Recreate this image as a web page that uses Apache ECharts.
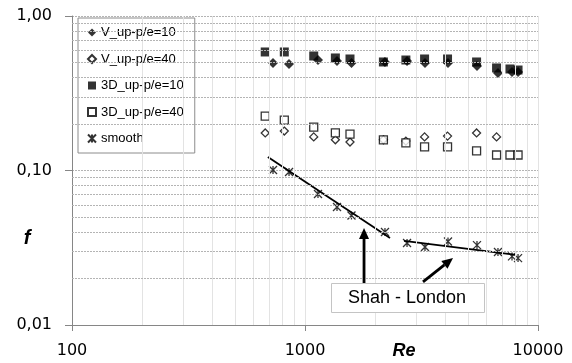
<!DOCTYPE html>
<html>
<head>
<meta charset="utf-8">
<script src="https://cdn.jsdelivr.net/npm/echarts@6/dist/echarts.min.js"></script>
<style>
  html, body { margin: 0; padding: 0; background: #fff; }
  #chart { width: 572px; height: 363px; }
</style>
</head>
<body>
<div id="chart"></div>
<script>
// Reynolds numbers of the two measurement sets
const re3D = [675, 815, 1090, 1350, 1560, 2170, 2710, 3260, 4090, 5450, 6640, 7580, 8210];
const reV  = [729, 854, 1137, 1372, 1583, 2204, 2741, 3273, 4109, 5472, 6733, 7735, 8210];

// friction factor f
const fV10    = [0.496, 0.489, 0.519, 0.511, 0.496, 0.504, 0.511, 0.496, 0.496, 0.475, 0.428, 0.434, 0.434];
const fV40    = [0.175, 0.180, 0.165, 0.158, 0.153, 0.158, 0.155, 0.165, 0.167, 0.175, 0.165];
const f3D10   = [0.585, 0.585, 0.551, 0.535, 0.527, 0.504, 0.519, 0.527, 0.527, 0.504, 0.461, 0.454, 0.447];
const f3D40   = [0.225, 0.212, 0.191, 0.175, 0.172, 0.158, 0.151, 0.142, 0.142, 0.134, 0.126, 0.126, 0.126];
const fSmooth = [0.1007, 0.0978, 0.0705, 0.0580, 0.0511, 0.0400, 0.0339, 0.0320, 0.0347, 0.0329, 0.0297, 0.0278, 0.0271];

// Shah - London correlations (end points)
const shahLam  = [[693, 0.1223], [2317, 0.0366]];
const shahTurb = [[2660, 0.0350], [8046, 0.0284]];

// annotation arrows: Re from, f from, Re to, f to
const arrows = [
  [1792, 0.0187, 1792, 0.0425],
  [3209, 0.0190, 4318, 0.0271],
];

// minor grid values
const xMinor = [200, 300, 400, 500, 600, 700, 800, 900, 2000, 3000, 4000, 5000, 6000, 7000, 8000, 9000];
const yMinor = [0.02, 0.03, 0.04, 0.05, 0.06, 0.07, 0.08, 0.09, 0.2, 0.3, 0.4, 0.5, 0.6, 0.7, 0.8, 0.9];

const names = ['V_up-p/e=10', 'V_up-p/e=40', '3D_up-p/e=10', '3D_up-p/e=40', 'smooth'];

const zip = (xs, ys) => ys.map((y, i) => [xs[i], y]);
const star = 'path://M0,0L10,10M10,0L0,10M5,0L5,10';
const axisGrey = '#868686';

// line with a filled head at its end
function renderArrow(params, api) {
  const p1 = api.coord([api.value(0), api.value(1)]);
  const p2 = api.coord([api.value(2), api.value(3)]);
  const dx = p2[0] - p1[0], dy = p2[1] - p1[1];
  const len = Math.sqrt(dx * dx + dy * dy);
  const ux = dx / len, uy = dy / len;
  const headLen = 11, halfW = 5;
  const bx = p2[0] - ux * headLen, by = p2[1] - uy * headLen;
  return {
    type: 'group',
    children: [
      {
        type: 'line',
        shape: { x1: p1[0], y1: p1[1], x2: bx, y2: by },
        style: { stroke: '#000', lineWidth: 2.8 },
      },
      {
        type: 'polygon',
        shape: { points: [p2, [bx - uy * halfW, by + ux * halfW], [bx + uy * halfW, by - ux * halfW]] },
        style: { fill: '#000' },
      },
    ],
  };
}

const chart = echarts.init(document.getElementById('chart'));

chart.setOption({
  animation: false,
  grid: { left: 72, right: 34, top: 16, bottom: 38 },
  legend: {
    orient: 'vertical',
    left: 78, top: 18,
    padding: [8, 11, 8, 9],
    itemGap: 13.5, itemWidth: 8, itemHeight: 8,
    backgroundColor: '#fff',
    borderColor: '#8c8c8c', borderWidth: 1,
    textStyle: { fontFamily: 'Liberation Sans', fontSize: 13, color: '#000' },
    data: names,
    selectedMode: false,
  },
  xAxis: {
    type: 'log', logBase: 10, min: 100, max: 10000,
    axisLine: { lineStyle: { color: axisGrey } },
    axisTick: { length: 6, lineStyle: { color: axisGrey } },
    axisLabel: {
      color: '#000', fontFamily: 'DejaVu Sans', fontSize: 16, margin: 18,
      formatter: (v) => String(Math.round(v)),
    },
    splitLine: { show: true, lineStyle: { color: '#e3e3e3' } },
  },
  yAxis: {
    type: 'log', logBase: 10, min: 0.01, max: 1,
    axisLine: { show: true, lineStyle: { color: axisGrey } },
    axisTick: { show: true, length: 7, lineStyle: { color: axisGrey } },
    axisLabel: {
      color: '#000', fontFamily: 'DejaVu Sans', fontSize: 16, margin: 20,
      formatter: (v) => v.toFixed(2).replace('.', ','),
    },
    splitLine: { show: true, lineStyle: { color: '#b4b4b4', type: [2, 1] } },
  },
  graphic: [
    {
      type: 'rect', z: 100,
      shape: { x: 331.5, y: 283.5, width: 153, height: 29 },
      style: { fill: '#fff', stroke: '#c4c4c4', lineWidth: 1 },
    },
    {
      type: 'text', z: 101, x: 407, y: 298,
      style: { text: 'Shah - London', font: '18px "Liberation Sans"', fill: '#000', align: 'center', verticalAlign: 'middle' },
    },
    {
      type: 'text', z: 101, x: 27, y: 238,
      style: { text: 'f', font: 'italic bold 20px "Liberation Sans"', fill: '#000', align: 'center', verticalAlign: 'middle' },
    },
    {
      type: 'text', z: 101, x: 404, y: 351,
      style: { text: 'Re', font: 'italic bold 18px "Liberation Sans"', fill: '#000', align: 'center', verticalAlign: 'middle' },
    },
  ],
  series: [
    {
      // minor grid
      type: 'line', data: [], silent: true, z: 0,
      markLine: {
        silent: true, symbol: 'none', animation: false,
        label: { show: false },
        emphasis: { disabled: true },
        data: [
          ...xMinor.map((v) => ({ xAxis: v, lineStyle: { color: '#e3e3e3', type: 'solid', width: 1 } })),
          ...yMinor.map((v) => ({ yAxis: v, lineStyle: { color: '#b4b4b4', type: [2, 1], width: 1 } })),
        ],
      },
    },
    {
      name: names[0], type: 'scatter', data: zip(reV, fV10),
      symbol: 'diamond', symbolSize: 10,
      itemStyle: { color: '#000' }, emphasis: { disabled: true },
    },
    {
      name: names[1], type: 'scatter', data: zip(re3D, fV40),
      symbol: 'diamond', symbolSize: 8,
      itemStyle: { color: '#fff', borderColor: '#000', borderWidth: 1.3 }, emphasis: { disabled: true },
    },
    {
      name: names[2], type: 'scatter', data: zip(re3D, f3D10),
      symbol: 'rect', symbolSize: 9,
      itemStyle: { color: '#000' }, emphasis: { disabled: true },
    },
    {
      name: names[3], type: 'scatter', data: zip(re3D, f3D40),
      symbol: 'rect', symbolSize: 8,
      itemStyle: { color: '#fff', borderColor: '#000', borderWidth: 1.3 }, emphasis: { disabled: true },
    },
    {
      name: names[4], type: 'scatter', data: zip(reV, fSmooth),
      symbol: star, symbolSize: 8,
      itemStyle: { color: '#000', borderColor: '#000', borderWidth: 1.3 }, emphasis: { disabled: true },
    },
    {
      type: 'line', data: shahLam, symbol: 'none', silent: true,
      lineStyle: { color: '#000', width: 1.8 },
    },
    {
      type: 'line', data: shahTurb, symbol: 'none', silent: true,
      lineStyle: { color: '#000', width: 1.8 },
    },
    {
      type: 'custom', data: arrows, silent: true, z: 5,
      encode: { x: [0, 2], y: [1, 3] },
      renderItem: renderArrow,
    },
  ],
});
</script>
</body>
</html>
